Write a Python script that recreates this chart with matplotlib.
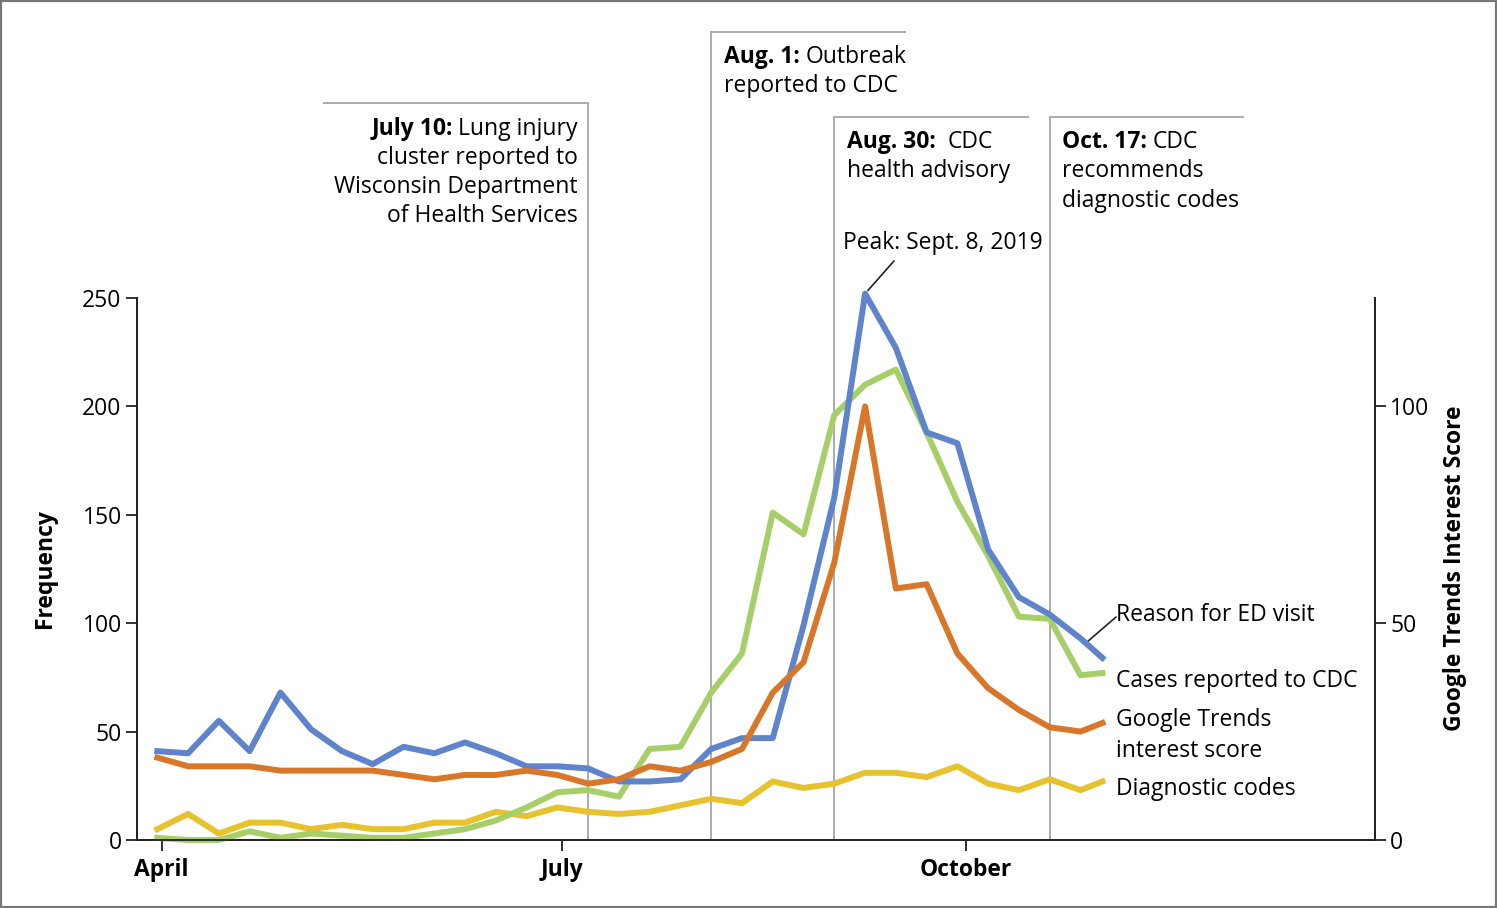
import numpy as np
import pandas as pd
import matplotlib
matplotlib.use("Agg")
import matplotlib.pyplot as plt
import matplotlib.dates as mdates
from matplotlib.transforms import blended_transform_factory
from matplotlib.patches import Rectangle

# --------------------------
# Data (weekly)
# --------------------------
weeks = list(pd.date_range("2019-03-31", "2019-10-27", freq="7D")) + [pd.Timestamp("2019-11-01")]

ed_visits = [41, 40, 55, 41, 68, 51, 41, 35, 43, 40, 45, 40, 34, 34, 33, 27,
             27, 28, 42, 47, 47, 99, 158, 252, 227, 188, 183, 134, 112, 104, 93, 84]
cdc_cases = [1, 0, 0, 4, 1, 3, 2, 1, 1, 3, 5, 9, 15, 22, 23, 20,
             42, 43, 68, 86, 151, 141, 196, 210, 217, 188, 156, 131, 103, 102, 76, 77]
diag_codes = [5, 12, 3, 8, 8, 5, 7, 5, 5, 8, 8, 13, 11, 15, 13, 12,
              13, 16, 19, 17, 27, 24, 26, 31, 31, 29, 34, 26, 23, 28, 23, 27]
google_trends = [19, 17, 17, 17, 16, 16, 16, 16, 15, 14, 15, 15, 16, 15, 13, 14,
                 17, 16, 18, 21, 34, 41, 64, 100, 58, 59, 43, 35, 30, 26, 25, 27]

# event markers sit on the week lines; (date, top of line in axes frac, box width in days)
event_weeks = ["2019-07-07", "2019-08-04", "2019-09-01", "2019-10-20"]
event_tops = [1.36, 1.49, 1.334, 1.334]
event_widths = [-60, 44, 44, 44]

x_ticks = ["2019-04-01", "2019-07-01", "2019-10-01"]
x_labels = ["April", "July", "October"]

BLUE = "#5f84cc"
GREEN = "#a6cf6a"
ORANGE = "#d8772a"
YELLOW = "#e6c22e"
GREY = "#ababab"

W, H = 1497, 908
def fx(x):
    return x / W
def fy(y):
    return 1 - y / H

plt.rcParams["font.family"] = ["Open Sans", "DejaVu Sans"]
FS = 16.5

fig = plt.figure(figsize=(W / 100, H / 100), dpi=100)
ax = fig.add_axes([fx(137), fy(840), (1375 - 137) / W, (840 - 298) / H])
ax2 = ax.twinx()

LW = 4.3
x = mdates.date2num(weeks)
ax.plot(x, diag_codes, color=YELLOW, lw=LW, zorder=3, clip_on=False)
ax.plot(x, cdc_cases, color=GREEN, lw=LW, zorder=4, clip_on=False)
ax.plot(x, ed_visits, color=BLUE, lw=LW, zorder=5, clip_on=False)
ax2.plot(x, google_trends, color=ORANGE, lw=LW, zorder=5, clip_on=False)

ax.set_xlim(mdates.date2num(pd.Timestamp("2019-03-26 09:00")), mdates.date2num(pd.Timestamp("2020-01-02")))
ax.set_ylim(0, 250)
ax2.set_ylim(0, 125)
ax.set_yticks([0, 50, 100, 150, 200, 250])
ax2.set_yticks([0, 50, 100])
ax.set_xticks(mdates.date2num(pd.to_datetime(x_ticks)))
ax.set_xticklabels(x_labels, fontweight="bold", fontsize=FS)

for a in (ax, ax2):
    a.spines["top"].set_visible(False)
    for s in a.spines.values():
        s.set_linewidth(1.3)
        s.set_color("#222222")
    a.tick_params(length=8, width=1.3, color="#222222", labelsize=FS, pad=3)
ax.tick_params(axis="x", pad=5)

# event lines
trans = blended_transform_factory(ax.transData, ax.transAxes)
for d, top, wd in zip(event_weeks, event_tops, event_widths):
    xd = mdates.date2num(pd.Timestamp(d))
    ax.plot([xd, xd], [0, top], transform=trans, clip_on=False, color=GREY, lw=1.4, zorder=1)
    ax.plot([xd, xd + wd], [top, top], transform=trans, clip_on=False, color=GREY, lw=1.4, zorder=1)

# axis titles
fig.text(fx(45), fy(569), "Frequency", rotation=90, ha="center", va="center",
         fontweight="bold", fontsize=FS)
fig.text(fx(1455), fy(568), "Google Trends Interest Score", rotation=90, ha="center",
         va="center", fontweight="bold", fontsize=FS)

renderer = fig.canvas.get_renderer()

def mixed(xp, yp, bold, regular, align="left", gap=6):
    if align == "left":
        t1 = fig.text(fx(xp), fy(yp), bold, fontweight="bold", fontsize=FS, ha="left", va="baseline")
        w = t1.get_window_extent(renderer).width
        fig.text(fx(xp + w + gap), fy(yp), regular, fontsize=FS, ha="left", va="baseline")
    else:
        t2 = fig.text(fx(xp), fy(yp), regular, fontsize=FS, ha="right", va="baseline")
        w = t2.get_window_extent(renderer).width
        fig.text(fx(xp - w - gap), fy(yp), bold, fontweight="bold", fontsize=FS, ha="right", va="baseline")

def plain(xp, yp, s, ha="left"):
    fig.text(fx(xp), fy(yp), s, fontsize=FS, ha=ha, va="baseline")

mixed(578, 135, "July 10:", "Lung injury", align="right")
plain(578, 164, "cluster reported to", ha="right")
plain(578, 193, "Wisconsin Department", ha="right")
plain(578, 222, "of Health Services", ha="right")

mixed(724, 63, "Aug. 1:", "Outbreak")
plain(724, 92, "reported to CDC")

mixed(847, 148, "Aug. 30:", "CDC", gap=12)
plain(847, 177, "health advisory")

mixed(1062, 148, "Oct. 17:", "CDC")
plain(1062, 177, "recommends")
plain(1062, 207, "diagnostic codes")

plain(843, 249, "Peak: Sept. 8, 2019")

# leader lines
peak_i = int(np.argmax(ed_visits))
ax.annotate("", xy=(x[peak_i], ed_visits[peak_i]), xytext=(fx(894), fy(261)),
            textcoords="figure fraction", annotation_clip=False,
            arrowprops=dict(arrowstyle="-", color="#222222", lw=1.2, shrinkA=0, shrinkB=3))
ax.annotate("", xy=(x[-2] + 1.6, (ed_visits[-2] + ed_visits[-1]) / 2 + 3), xytext=(fx(1116), fy(617)),
            textcoords="figure fraction", annotation_clip=False,
            arrowprops=dict(arrowstyle="-", color="#222222", lw=1.2, shrinkA=0, shrinkB=0))

# series labels
plain(1116, 621, "Reason for ED visit")
plain(1116, 687, "Cases reported to CDC")
plain(1116, 726, "Google Trends")
plain(1116, 757, "interest score")
plain(1116, 795, "Diagnostic codes")

# frame around the figure
fig.patches.append(Rectangle((0, 0), 1, 1, transform=fig.transFigure, fill=False,
                             edgecolor="#777777", lw=3, zorder=10))

fig.savefig("out.png", dpi=100, facecolor="white")
